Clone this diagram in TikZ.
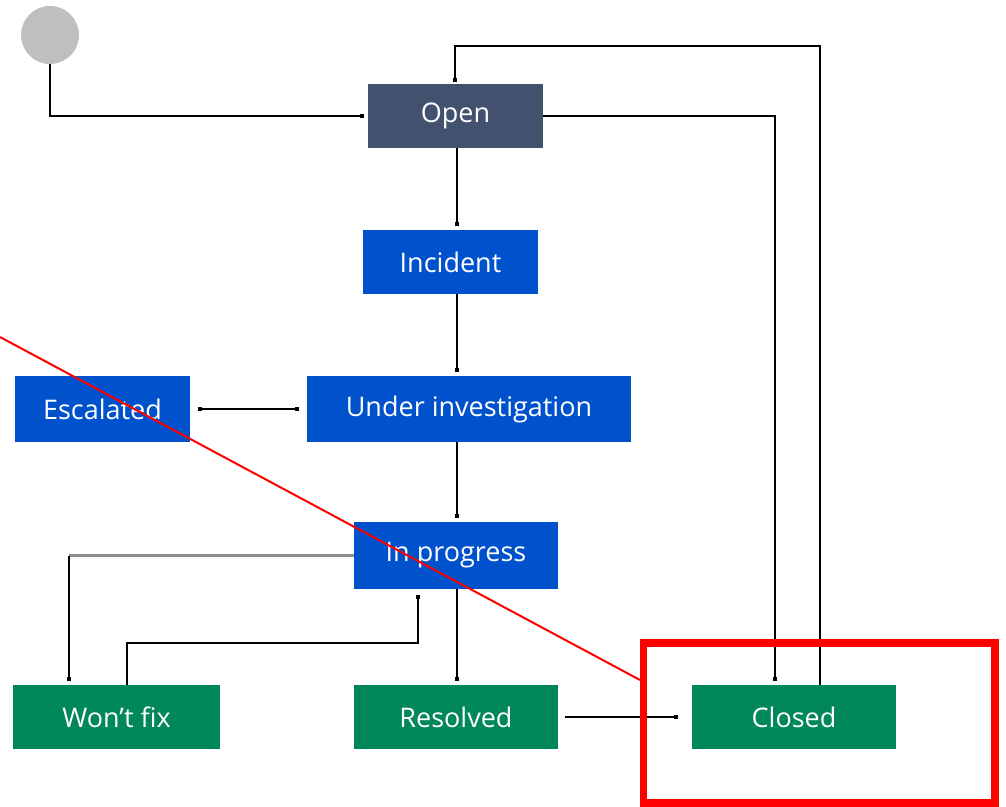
\documentclass[tikz,border=0pt]{standalone}
\usepackage{fontspec}
\setmainfont{Open Sans}
\usetikzlibrary{arrows.meta,calc}
\definecolor{slate}{HTML}{42526E}
\definecolor{jblue}{HTML}{0052CC}
\definecolor{jgreen}{HTML}{00875A}
\definecolor{startgray}{HTML}{BFBFBF}
\tikzset{
  statebox/.style={rectangle, inner sep=0pt, text=white, font=\fontsize{27}{29}\selectfont},
  openbox/.style={statebox, fill=slate},
  bluebox/.style={statebox, fill=jblue},
  greenbox/.style={statebox, fill=jgreen},
  sqtip/.tip={Square[length=4pt,width=4pt,fill=black!70]},
  conn/.style={line width=2.4pt, -sqtip, shorten >=4pt},
}
\begin{document}
\begin{tikzpicture}[x=1pt,y=-1pt]
\useasboundingbox (0,0) rectangle (1006,806);
\node[circle, fill=startgray, minimum size=58pt, inner sep=0pt] (start) at (50,35) {};
\node[openbox, minimum width=175pt, minimum height=64pt] (open) at (455.5,116) {Open};
\node[bluebox, minimum width=175pt, minimum height=64pt] (incident) at (450.5,262) {Incident};
\node[bluebox, minimum width=175pt, minimum height=66pt] (escalated) at (102.5,409) {Escalated};
\node[bluebox, minimum width=324pt, minimum height=66pt] (underinv) at (469,409) {Under investigation};
\node[bluebox, minimum width=204pt, minimum height=67pt] (inprog) at (456,555.5) {In progress};
\node[greenbox, minimum width=207pt, minimum height=64pt] (wontfix) at (116.5,717) {Won’t fix};
\node[greenbox, minimum width=204pt, minimum height=64pt] (resolved) at (456,717) {Resolved};
\node[greenbox, minimum width=204pt, minimum height=64pt] (closed) at (794,717) {Closed};

\coordinate (midx) at (457,0);
\coordinate (wfin) at (69,0);
\coordinate (wfout) at (127,0);
\coordinate (wfy) at (0,643);
\coordinate (ipin) at (418,0);
\coordinate (clin) at (775,0);
\coordinate (clout) at (820,0);
\coordinate (topy) at (0,46);
\coordinate (opin) at (455,0);

% start -> open
\draw[conn] (start.south) |- (open.west);
% open -> incident
\draw[conn] (open.south -| midx) -- (incident.north -| midx);
% incident -> under investigation
\draw[conn] (incident.south -| midx) -- (underinv.north -| midx);
% escalated <-> under investigation
\draw[line width=2.4pt, sqtip-sqtip, shorten <=8pt, shorten >=8pt] (escalated.east) -- (underinv.west);
% under investigation -> in progress
\draw[conn] (underinv.south -| midx) -- (inprog.north -| midx);
% in progress -> resolved
\draw[conn] (inprog.south -| midx) -- (resolved.north -| midx);
% in progress -> won't fix
\draw[line width=2.4pt, black!45] (inprog.west) -- (inprog.west -| wfin);
\draw[conn] (inprog.west -| wfin) -- (wontfix.north -| wfin);
% won't fix -> in progress
\draw[conn, shorten >=6pt] (wontfix.north -| wfout) |- (wfy -| ipin) -- (inprog.south -| ipin);
% resolved -> closed
\draw[conn, shorten <=7pt, shorten >=14pt] (resolved.east) -- (closed.west);
% open -> closed
\draw[conn] (open.east) -| (closed.north -| clin);
% closed -> open
\draw[conn, shorten >=2pt] (closed.north -| clout) |- (topy -| opin) -- (open.north -| opin);

% red annotation
\draw[red, line width=2pt] (0,337) -- (640,680);
\draw[red, line width=7.5pt] (643.5,643) rectangle (995,803);
\end{tikzpicture}
\end{document}
